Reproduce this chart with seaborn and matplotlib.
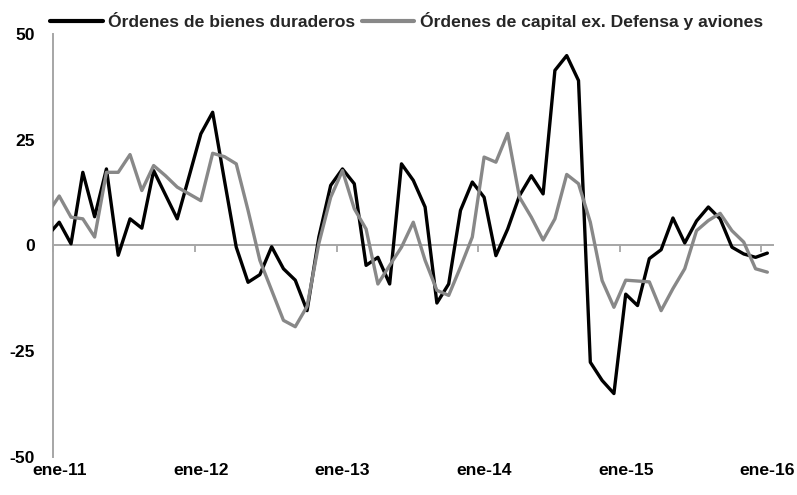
import numpy as np
import pandas as pd
import seaborn as sns
import matplotlib
matplotlib.use("Agg")
import matplotlib.pyplot as plt
from matplotlib import font_manager

# ---- data (monthly, dic-10 .. ene-16; dic-10 only sets the clipped lead-in) ----
series_names = ["Órdenes de bienes duraderos", "Órdenes de capital ex. Defensa y aviones"]
tick_labels = ["ene-11", "ene-12", "ene-13", "ene-14", "ene-15", "ene-16"]

durables = [2.3,
            5.5, 0.4, 17.3, 6.8, 18.1, -2.3, 6.3, 4.1, 17.7, 12.0, 6.3, 16.3,
            26.4, 31.5, 15.4, -0.4, -8.7, -6.9, -0.3, -5.5, -8.2, -15.4, 2.0, 14.2,
            18.1, 14.6, -4.7, -2.8, -9.1, 19.3, 15.4, 9.1, -13.6, -9.1, 8.3, 15.0,
            11.4, -2.4, 3.9, 11.8, 16.5, 12.2, 41.4, 44.9, 39.0, -27.6, -31.9, -35.0,
            -11.5, -14.2, -3.1, -1.0, 6.5, 0.6, 5.8, 9.1, 6.3, -0.4, -2.0, -2.8,
            -1.8]

capital = [7.5,
           11.7, 6.7, 6.3, 2.0, 17.3, 17.3, 21.5, 13.0, 18.9, 16.5, 13.8, 12.2,
           10.6, 21.8, 21.0, 19.3, 8.3, -3.5, -10.6, -17.7, -19.2, -14.4, 0.5, 11.4,
           17.7, 8.7, 3.9, -9.1, -4.7, -0.4, 5.5, -3.5, -10.6, -11.8, -5.1, 2.0,
           20.9, 19.7, 26.5, 11.4, 6.7, 1.3, 6.3, 16.8, 14.6, 5.5, -8.3, -14.6,
           -8.2, -8.4, -8.6, -15.4, -10.2, -5.5, 3.5, 5.9, 7.6, 3.5, 0.8, -5.5,
           -6.3]

month_idx = list(range(-1, len(durables) - 1))  # 0 = ene-11

df = pd.concat([
    pd.DataFrame({"t": month_idx, "v": durables, "serie": series_names[0]}),
    pd.DataFrame({"t": month_idx, "v": capital, "serie": series_names[1]}),
])

# ---- style ----
sns.set_theme(style="white")
installed = {f.name for f in font_manager.fontManager.ttflist}
fam = "Liberation Sans Narrow" if "Liberation Sans Narrow" in installed else "Liberation Sans"
narrow = fam == "Liberation Sans Narrow"
plt.rcParams["font.family"] = [fam, "DejaVu Sans"]
plt.rcParams["font.weight"] = "bold"

AX_GRAY = "#a6a6a6"
palette = {series_names[0]: "#000000", series_names[1]: "#888888"}

fig = plt.figure(figsize=(7.97, 4.95), dpi=100)
ax = fig.add_axes([0.0669, 0.0768, 0.9033, 0.8545])

sns.lineplot(data=df, x="t", y="v", hue="serie", palette=palette,
             linewidth=2.4, ax=ax, zorder=3)

ax.set_xlim(-0.5, 60.5)
ax.set_ylim(-50, 50)
ax.set_xlabel("")
ax.set_ylabel("")

for s in ["top", "right", "bottom"]:
    ax.spines[s].set_visible(False)
ax.spines["left"].set_color(AX_GRAY)
ax.spines["left"].set_linewidth(1.4)

tick_size = 15 if narrow else 12.6
ax.set_yticks([-50, -25, 0, 25, 50])
ax.set_yticklabels(["-50", "-25", "0", "25", "50"])
ax.tick_params(axis="y", direction="out", length=4.5, width=1.3,
               color=AX_GRAY, pad=9, labelsize=tick_size, labelcolor="black")

label_pos = [0, 12, 24, 36, 48, 60]
ax.set_xticks(label_pos)
ax.set_xticklabels(tick_labels)
ax.tick_params(axis="x", length=0, pad=4, labelsize=tick_size, labelcolor="black")
for lab in ax.get_xticklabels() + ax.get_yticklabels():
    lab.set_fontweight("bold")

# zero line with year-boundary ticks
sec = ax.secondary_xaxis(0.5)
sec.set_alignment("bottom")
sec.set_xticks([-0.5, 11.5, 23.5, 35.5, 47.5, 59.5])
sec.tick_params(axis="x", direction="out", length=5, width=1.3,
                color=AX_GRAY, labelbottom=False, labeltop=False)
for s in sec.spines.values():
    s.set_color(AX_GRAY)
    s.set_linewidth(1.4)

leg_size = 15 if narrow else 12.6
sns.move_legend(ax, "center", bbox_to_anchor=(0.51, 0.958),
                bbox_transform=fig.transFigure, ncol=2, frameon=False,
                title=None, prop={"weight": "bold", "size": leg_size},
                handlelength=3.0, handletextpad=0.3, columnspacing=0.4,
                borderpad=0)
leg = ax.get_legend()
for h in leg.get_lines():
    h.set_linewidth(3.0)

fig.savefig("out.png", dpi=100)
